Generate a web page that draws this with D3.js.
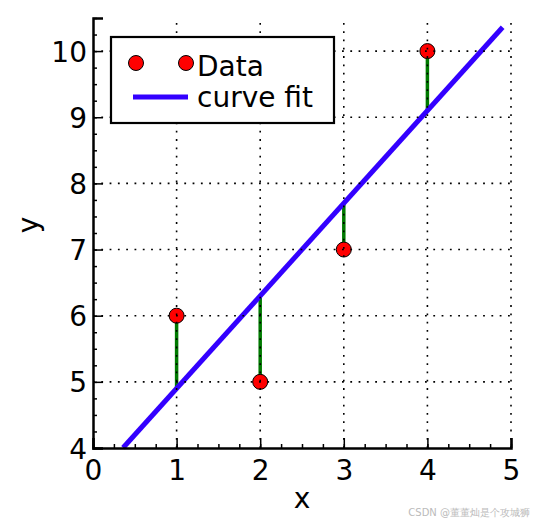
<!DOCTYPE html>
<html>
<head>
<meta charset="utf-8">
<script src="https://cdn.jsdelivr.net/npm/d3@7"></script>
<style>
  body { margin: 0; background: #fff; }
  text { font-family: "DejaVu Sans", sans-serif; }
</style>
</head>
<body>
<svg id="chart" width="535" height="525"></svg>
<script>
const xData = [1, 2, 3, 4];
const yData = [6, 5, 7, 10];
const fitRange = [0.36, 4.9];
const xTicks = [0, 1, 2, 3, 4, 5];
const yTicks = [4, 5, 6, 7, 8, 9, 10];

// least squares slope/intercept from the data
const mx = d3.mean(xData), my = d3.mean(yData);
const slope = d3.sum(xData, (d, i) => (d - mx) * (yData[i] - my)) /
  d3.sum(xData, d => (d - mx) * (d - mx));
const intercept = my - slope * mx;

const svg = d3.select("#chart");
const plotL = 93, plotR = 511, plotT = 18, plotB = 448;

const x = d3.scaleLinear().domain([0, 5]).range([plotL, plotR]);
const y = d3.scaleLinear().domain([4, 10.5]).range([plotB, plotT]);

const plot = svg.append("g");

// residuals
plot.selectAll(".resid")
  .data(xData)
  .enter()
  .append("line")
  .attr("x1", d => x(d))
  .attr("x2", d => x(d))
  .attr("y1", (d, i) => y(yData[i]))
  .attr("y2", d => y(slope * d + intercept))
  .attr("stroke", "#007a00")
  .attr("stroke-width", 3.5);

// fit line
plot.append("line")
  .attr("x1", x(fitRange[0]))
  .attr("y1", y(slope * fitRange[0] + intercept))
  .attr("x2", x(fitRange[1]))
  .attr("y2", y(slope * fitRange[1] + intercept))
  .attr("stroke", "#3300ff")
  .attr("stroke-width", 5);

// data points
plot.selectAll(".pt")
  .data(xData)
  .enter()
  .append("circle")
  .attr("cx", d => x(d))
  .attr("cy", (d, i) => y(yData[i]))
  .attr("r", 7.5)
  .attr("fill", "#ff0000")
  .attr("stroke", "#000")
  .attr("stroke-width", 1);

// dotted grid on top
const grid = svg.append("g")
  .attr("stroke", "#000")
  .attr("stroke-width", 1.6)
  .attr("stroke-dasharray", "1.8,6.5");

grid.selectAll(".gx")
  .data(xTicks.slice(1))
  .enter()
  .append("line")
  .attr("x1", d => x(d)).attr("x2", d => x(d))
  .attr("y1", plotB).attr("y2", plotT);

grid.selectAll(".gy")
  .data(yTicks.slice(1))
  .enter()
  .append("line")
  .attr("x1", plotL).attr("x2", plotR)
  .attr("y1", d => y(d)).attr("y2", d => y(d));

// axes, ticks pointing inward
const xAxis = svg.append("g")
  .attr("transform", `translate(0,${plotB})`)
  .call(d3.axisBottom(x).tickValues(xTicks).tickSize(-10).tickPadding(12).tickFormat(d3.format("d")));
xAxis.append("g")
  .call(d3.axisBottom(x).tickValues(d3.range(0, 5.01, 0.25)).tickSize(-4).tickFormat(""))
  .select(".domain").remove();

const yAxis = svg.append("g")
  .attr("transform", `translate(${plotL},0)`)
  .call(d3.axisLeft(y).tickValues(yTicks).tickSize(-10).tickPadding(6).tickFormat(d3.format("d")));
yAxis.append("g")
  .call(d3.axisLeft(y).tickValues(d3.range(4, 10.51, 0.25)).tickSize(-4).tickFormat(""))
  .select(".domain").remove();

svg.selectAll(".domain").attr("stroke-width", 2.5);
svg.selectAll(".tick line").attr("stroke-width", 1.5);
svg.selectAll(".tick text")
  .attr("font-size", 28)
  .attr("font-family", "DejaVu Sans")
  .attr("fill", "#000");
yAxis.selectAll(".tick text").attr("dy", "0.36em");
xAxis.selectAll(".tick text").attr("dy", "0.71em");

// axis labels
svg.append("text")
  .attr("x", (plotL + plotR) / 2)
  .attr("y", 508)
  .attr("text-anchor", "middle")
  .attr("font-size", 28)
  .text("x");

svg.append("text")
  .attr("transform", "translate(38,225) rotate(-90)")
  .attr("text-anchor", "middle")
  .attr("font-size", 28)
  .text("y");

// legend
const legend = svg.append("g");
legend.append("rect")
  .attr("x", 111).attr("y", 37)
  .attr("width", 223).attr("height", 86)
  .attr("fill", "#fff")
  .attr("stroke", "#000")
  .attr("stroke-width", 2.2);
legend.selectAll(".lpt")
  .data([136, 186])
  .enter()
  .append("circle")
  .attr("cx", d => d).attr("cy", 63)
  .attr("r", 7.5)
  .attr("fill", "#ff0000")
  .attr("stroke", "#000");
legend.append("text")
  .attr("x", 197).attr("y", 76)
  .attr("font-size", 28)
  .text("Data");
legend.append("line")
  .attr("x1", 133).attr("x2", 188)
  .attr("y1", 97).attr("y2", 97)
  .attr("stroke", "#3300ff")
  .attr("stroke-width", 5);
legend.append("text")
  .attr("x", 197).attr("y", 107)
  .attr("font-size", 28)
  .text("curve fit");

// watermark
svg.append("text")
  .attr("x", 530).attr("y", 516)
  .attr("text-anchor", "end")
  .attr("font-size", 10)
  .attr("font-family", "Noto Sans CJK SC")
  .attr("fill", "#bbb")
  .text("CSDN @董董灿是个攻城狮");
</script>
</body>
</html>
